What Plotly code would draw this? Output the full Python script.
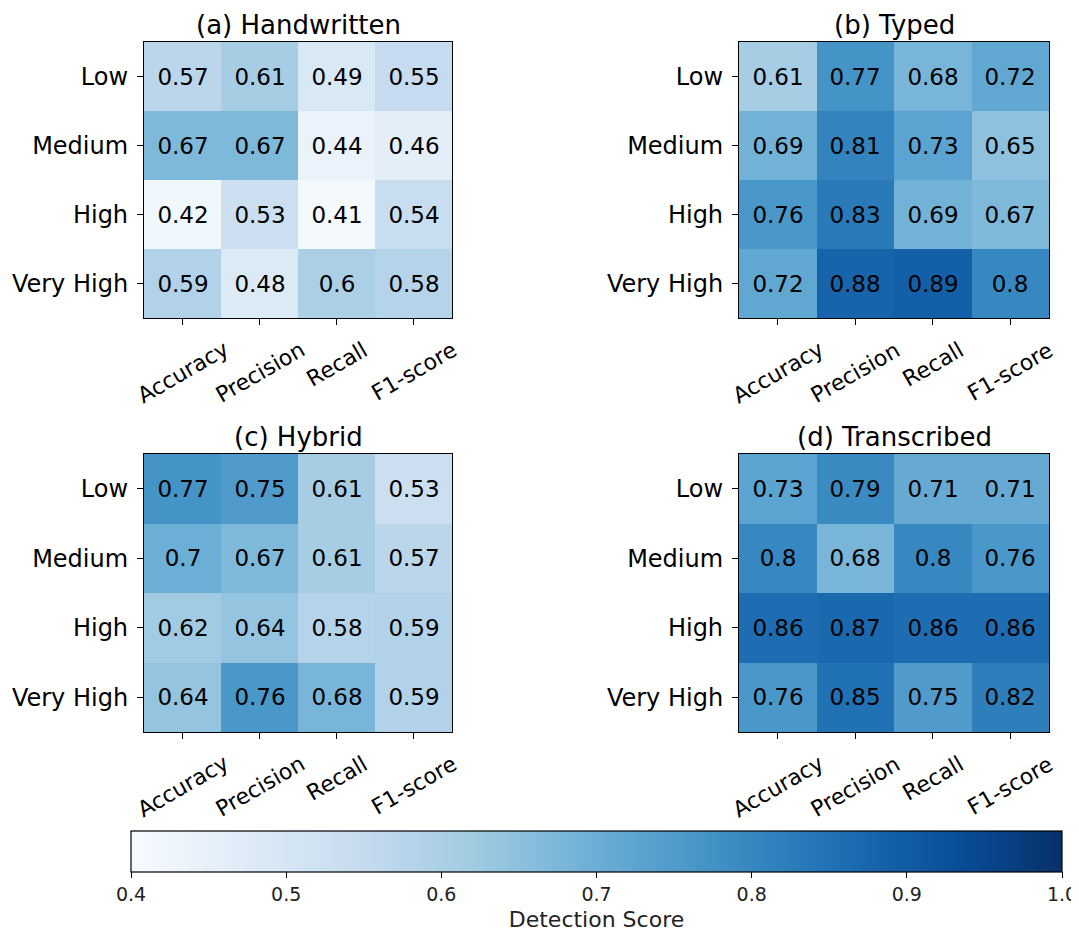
import plotly.graph_objects as go

metrics = ["Accuracy", "Precision", "Recall", "F1-score"]
levels = ["Low", "Medium", "High", "Very High"]

titles = ["(a) Handwritten", "(b) Typed", "(c) Hybrid", "(d) Transcribed"]

handwritten = [
    [0.57, 0.61, 0.49, 0.55],
    [0.67, 0.67, 0.44, 0.46],
    [0.42, 0.53, 0.41, 0.54],
    [0.59, 0.48, 0.6, 0.58],
]
typed = [
    [0.61, 0.77, 0.68, 0.72],
    [0.69, 0.81, 0.73, 0.65],
    [0.76, 0.83, 0.69, 0.67],
    [0.72, 0.88, 0.89, 0.8],
]
hybrid = [
    [0.77, 0.75, 0.61, 0.53],
    [0.7, 0.67, 0.61, 0.57],
    [0.62, 0.64, 0.58, 0.59],
    [0.64, 0.76, 0.68, 0.59],
]
transcribed = [
    [0.73, 0.79, 0.71, 0.71],
    [0.8, 0.68, 0.8, 0.76],
    [0.86, 0.87, 0.86, 0.86],
    [0.76, 0.85, 0.75, 0.82],
]
panels = [handwritten, typed, hybrid, transcribed]

cbar_ticks = [0.4, 0.5, 0.6, 0.7, 0.8, 0.9, 1.0]
vmin, vmax = 0.4, 1.0

blues = ["#f7fbff", "#deebf7", "#c6dbef", "#9ecae1", "#6baed6",
         "#4292c6", "#2171b5", "#08519c", "#08306b"]
colorscale = [[i / 8, c] for i, c in enumerate(blues)]

# the page body has an 8px margin, so the figure is offset by 8px
OFF = 8
W, H = 1079 - OFF, 932 - OFF
FONT = "DejaVu Sans"

# pixel boxes in page coords (left, right, top, bottom)
boxes = [(144, 452, 42, 318), (739, 1049, 42, 318),
         (144, 452, 454, 732), (739, 1049, 454, 732)]

fig = go.Figure()
layout = {}
annotations = []
for i, (z, title, box) in enumerate(zip(panels, titles, boxes)):
    n = i + 1
    xa = "x" if n == 1 else f"x{n}"
    ya = "y" if n == 1 else f"y{n}"
    fig.add_trace(go.Heatmap(
        z=z, x=metrics, y=levels, coloraxis="coloraxis",
        texttemplate="%{z}", textfont=dict(size=23, color="black", family=FONT),
        hoverinfo="skip", xaxis=xa, yaxis=ya,
    ))
    l, r, t, b = [v - OFF for v in box]
    axis_common = dict(showline=True, mirror=True, linecolor="black", linewidth=1.2,
                       ticks="outside", ticklen=6, tickcolor="black", tickwidth=1.2,
                       showgrid=False, zeroline=False, type="category")
    layout["xaxis" if n == 1 else f"xaxis{n}"] = dict(
        domain=[l / W, r / W], anchor=ya, showticklabels=False,
        range=[-0.5, len(metrics) - 0.5], **axis_common)
    layout["yaxis" if n == 1 else f"yaxis{n}"] = dict(
        domain=[1 - b / H, 1 - t / H], anchor=xa,
        range=[len(levels) - 0.5, -0.5],
        tickfont=dict(size=24, color="black", family=FONT), ticklabelstandoff=4,
        **axis_common)
    annotations.append(dict(
        text=title, x=0.5, xref=f"{xa} domain", y=1, yref=f"{ya} domain",
        xanchor="center", yanchor="bottom", yshift=0, showarrow=False,
        font=dict(size=26, color="black", family=FONT)))
    for m in metrics:
        annotations.append(dict(
            text=m, x=m, xref=xa, y=0, yref=f"{ya} domain",
            xanchor="center", yanchor="top", yshift=-16, textangle=-30,
            showarrow=False, font=dict(size=22, color="black", family=FONT)))

cb_left, cb_right, cb_top, cb_bottom = [v - OFF for v in (131, 1062, 831, 872)]

fig.update_layout(
    **layout,
    annotations=annotations,
    width=W, height=H,
    margin=dict(l=0, r=0, t=0, b=0, autoexpand=False),
    paper_bgcolor="white", plot_bgcolor="white",
    font=dict(family=FONT, color="black"),
    coloraxis=dict(
        colorscale=colorscale, cmin=vmin, cmax=vmax,
        colorbar=dict(
            orientation="h", lenmode="pixels", len=cb_right - cb_left,
            thickness=cb_bottom - cb_top, thicknessmode="pixels",
            x=(cb_left + cb_right) / 2 / W, xanchor="center",
            y=1 - cb_top / H, yanchor="top", xpad=0, ypad=0,
            outlinecolor="black", outlinewidth=1.2,
            tickvals=cbar_ticks, ticktext=[f"{v:.1f}" for v in cbar_ticks],
            ticks="outside", ticklen=6, tickcolor="black",
            tickfont=dict(size=19, color="#222", family=FONT),
            title=dict(text="Detection Score", side="bottom",
                       font=dict(size=22, color="#222", family=FONT)),
        ),
    ),
)

fig.write_html("out.html")
